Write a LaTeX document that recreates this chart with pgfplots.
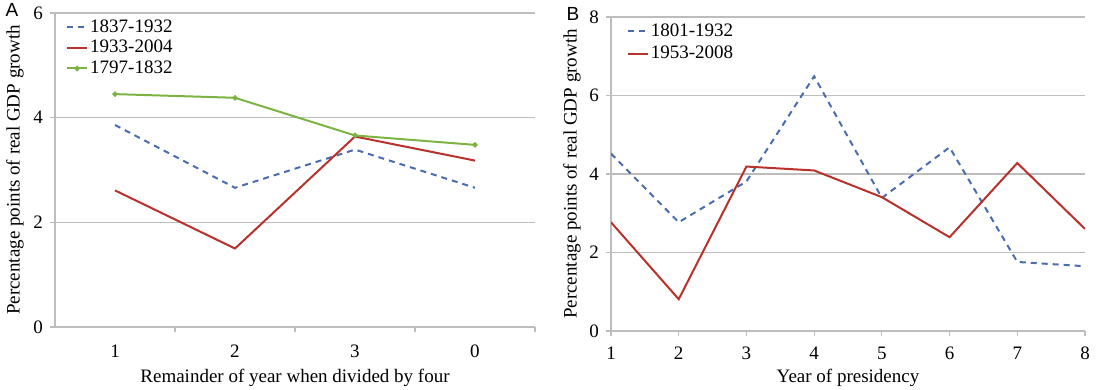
\documentclass[border=0pt]{standalone}
\usepackage{fontspec}
\setmainfont{Liberation Serif}
\newfontfamily\sansf{Liberation Sans}
\usepackage{pgfplots}
\pgfplotsset{compat=1.18}
\definecolor{cblue}{HTML}{4A6CB0}
\definecolor{cred}{HTML}{B8312A}
\definecolor{cgreen}{HTML}{7CB342}
\definecolor{cgrid}{HTML}{BDBDBD}
\pgfplotsset{
  myax/.style={
    scale only axis, height=157pt,
    axis x line*=bottom, axis y line*=left,
    axis line style={cgrid, line width=0.6pt},
    ymajorgrids, grid style={cgrid, line width=0.6pt},
    tick style={cgrid, line width=0.6pt},
    tick align=outside, major tick length=2.5pt, minor tick length=2.5pt,
    ymin=0,
    /pgf/number format/assume math mode=true,
    tick label style={font=\fontsize{9.5}{11}\selectfont},
    label style={font=\fontsize{9.5}{11}\selectfont},
    ylabel style={anchor=center},
    xlabel style={at={(axis description cs:0.5,0)}, anchor=center},
    legend style={draw=none, fill=none, font=\fontsize{9.5}{11}\selectfont,
      anchor=north west, nodes={inner sep=1pt}},
    legend cell align=left,
    legend image code/.code={\draw[##1] (0pt,0pt) -- (10pt,0pt);},
  },
  dsh/.style={cblue, line width=1pt, dash pattern=on 3pt off 2.5pt},
  rd/.style={cred, line width=1pt},
  gr/.style={cgreen, line width=1pt, mark=*, mark size=0.8pt, mark options={solid},
    legend image code/.code={\draw[##1, mark repeat=2, mark phase=2] plot coordinates {(0pt,0pt) (5pt,0pt) (10pt,0pt)};}},
}
\begin{document}
\begin{tikzpicture}
\begin{axis}[myax, width=240pt,
  xmin=0.5, xmax=4.5, ymax=6, ytick={0,2,4,6},
  xtick={1,2,3,4}, xticklabels={1,2,3,0},
  major x tick style={draw=none},
  minor xtick={1.5,2.5,3.5,4.5},
  xticklabel style={yshift=-3pt},
  ylabel={Percentage points of real GDP growth},
  xlabel={Remainder of year when divided by four},
  ylabel style={at={([xshift=-20pt]axis description cs:0,0.5)}},
  xlabel style={yshift=-25.5pt},
  legend style={at={(axis description cs:0.01,1.0)}, row sep=0.5pt},
]
\addplot[dsh] coordinates {(1,3.86) (2,2.66) (3,3.39) (4,2.66)};
\addlegendentry{1837-1932}
\addplot[rd] coordinates {(1,2.61) (2,1.50) (3,3.64) (4,3.18)};
\addlegendentry{1933-2004}
\addplot[gr] coordinates {(1,4.45) (2,4.38) (3,3.66) (4,3.48)};
\addlegendentry{1797-1832}
\end{axis}
\begin{axis}[myax, width=237pt, at={(278pt,-2pt)},
  xmin=1, xmax=8, ymax=8, ytick={0,2,4,6,8},
  xtick={1,2,...,8},
  xticklabel style={yshift=-2pt},
  ylabel={Percentage points of real GDP growth},
  xlabel={Year of presidency},
  ylabel style={at={([xshift=-19.5pt]axis description cs:0,0.5)}},
  xlabel style={yshift=-23.5pt},
  legend style={at={(axis description cs:0.02,1.0)}, row sep=1.5pt},
]
\addplot[dsh] coordinates {(1,4.52) (2,2.77) (3,3.81) (4,6.49) (5,3.39) (6,4.68) (7,1.76) (8,1.65)};
\addlegendentry{1801-1932}
\addplot[rd] coordinates {(1,2.77) (2,0.81) (3,4.19) (4,4.09) (5,3.41) (6,2.39) (7,4.28) (8,2.60)};
\addlegendentry{1953-2008}
\end{axis}
\node[font=\sansf\fontsize{9.5}{11}\selectfont] at (-21.5pt,158.5pt) {A};
\node[font=\sansf\fontsize{9.5}{11}\selectfont] at (259pt,156.5pt) {B};
\pgfresetboundingbox
\path (-27.5pt,-31.5pt) rectangle (521pt,163.5pt);
\end{tikzpicture}
\end{document}
